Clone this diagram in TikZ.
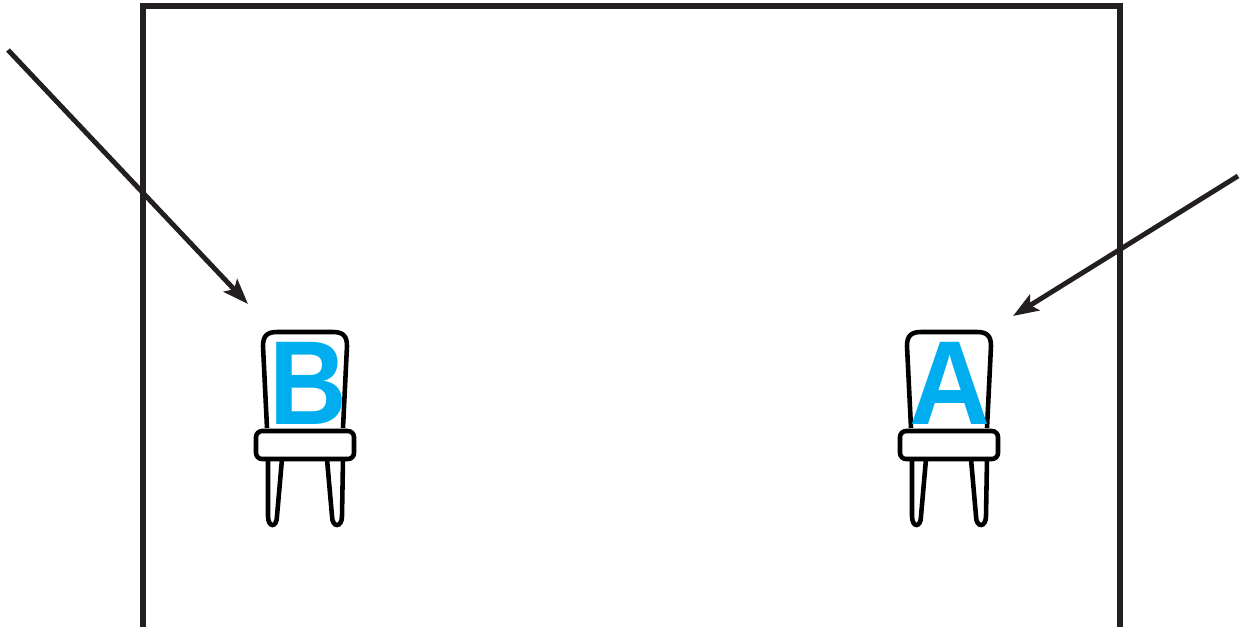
\documentclass[tikz,border=0pt]{standalone}
\usepackage{fontspec}
\setmainfont{Liberation Sans}
\usepackage{tikz}
\usetikzlibrary{arrows.meta,calc,positioning}
\definecolor{framegray}{HTML}{231F20}
\definecolor{seatcyan}{HTML}{00AEEF}
\tikzset{
    wall/.style={draw=framegray, line width=3pt},
    pointer/.style={draw=framegray, line width=2.8pt, -{Stealth[length=14.5pt, width=10.5pt, inset=3pt]}},
    seatlabel/.style={anchor=base, inner sep=0pt, text=seatcyan, font=\fontsize{68}{68}\selectfont\bfseries},
    chair/.pic={
        % Schienale
        \draw[black, line width=2.6pt] (-38,0) -- (-42,-82) .. controls (-42,-92) and (-38,-96) .. (-28,-96) -- (28,-96) .. controls (38,-96) and (42,-92) .. (42,-82) -- (38,0);
        % Gambe
        \draw[black, line width=2.6pt] (-37,31) -- (-37,88) .. controls (-37,100) and (-28,100) .. (-28,88) -- (-23,31);
        \draw[black, line width=2.6pt] (38,31) -- (37,88) .. controls (37,100) and (27,100) .. (27,88) -- (22,31);
        % Seduta
        \draw[black, line width=2.6pt, fill=white, rounded corners=3.5pt] (-49,3) rectangle (49,31);
    }
}

\begin{document}
\begin{tikzpicture}[x=0.02cm, y=-0.02cm]
    \useasboundingbox (0,0) rectangle (1241,627);

    % Stanza
    \draw[wall] (143,627) -- (143,6) -- (1120,6) -- (1120,627);

    % Sedie
    \pic at (305,428) {chair};
    \pic at (949,428) {chair};
    \node[seatlabel] (labelB) at (308,424) {\scalebox{.9}[1]{B}};
    \node[seatlabel] (labelA) at (950,424) {\scalebox{.94}[1]{A}};

    % Frecce
    \coordinate (startB) at (8,50);
    \coordinate (endB) at (248,304);
    \coordinate (startA) at (1238,176);
    \coordinate (endA) at (1013,316);
    \draw[pointer] (startB) -- (endB);
    \draw[pointer] (startA) -- (endA);
\end{tikzpicture}
\end{document}
